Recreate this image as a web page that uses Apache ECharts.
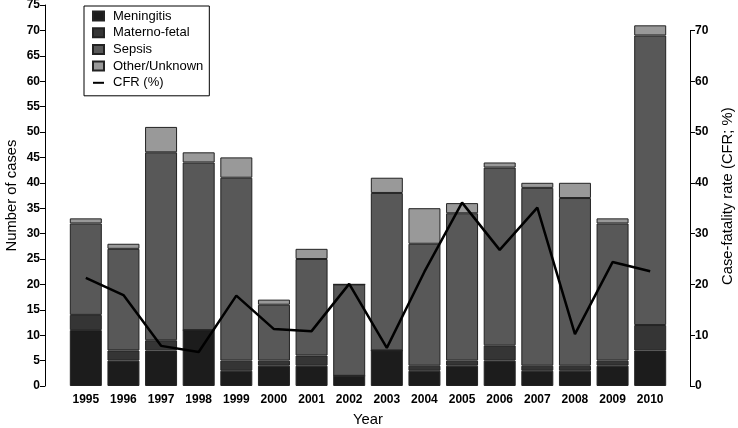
<!DOCTYPE html>
<html>
<head>
<meta charset="utf-8">
<script src="https://cdn.jsdelivr.net/npm/echarts@6/dist/echarts.min.js"></script>
<style>html,body{margin:0;padding:0;background:#fff}#c{width:738px;height:428px}</style>
</head>
<body>
<div id="c"></div>
<script>
var years = ['1995','1996','1997','1998','1999','2000','2001','2002','2003','2004','2005','2006','2007','2008','2009','2010'];
var meningitis   = [11, 5, 7, 11, 3, 4, 4, 2, 7, 3, 4, 5, 3, 3, 4, 7];
var maternoFetal = [ 3, 2, 2,  0, 2, 1, 2, 0, 0, 1, 1, 3, 1, 1, 1, 5];
var sepsis       = [18,20,37, 33,36,11,19,18,31,24,29,35,35,33,27,57];
var otherUnknown = [ 1, 1, 5,  2, 4, 1, 2, 0, 3, 7, 2, 1, 1, 3, 1, 2];
var cfr          = [21.3,17.9,7.9,6.7,17.8,11.2,10.8,20.1,7.5,22.5,36.1,26.8,35.1,10.2,24.4,22.6];
var leftTicks = {min: 0, max: 75, interval: 5};
var rightTicks = {min: 0, max: 70, interval: 10};

var FONT = '"Liberation Sans", Arial, sans-serif';
var chart = echarts.init(document.getElementById('c'));
var barStyle = function (c) { return {color: c, borderColor: '#222', borderWidth: 1}; };
chart.setOption({
  animation: false,
  backgroundColor: '#fff',
  textStyle: {fontFamily: FONT},
  grid: [
    {left: 67, right: 69, top: 5, bottom: 42, outerBoundsMode: 'none', containLabel: false},
    {left: 67, right: 69, top: 30.4, bottom: 42, outerBoundsMode: 'none', containLabel: false}
  ],
  legend: {
    orient: 'vertical', left: 84, top: 6,
    padding: [3, 6, 6, 8],
    borderColor: '#000', borderWidth: 1, borderRadius: 0,
    backgroundColor: '#fff',
    itemWidth: 11, itemHeight: 9, itemGap: 2.7,
    textStyle: {fontFamily: FONT, fontSize: 13, color: '#000', lineHeight: 14, padding: [0, 0, 0, 4]},
    data: [
      {name: 'Meningitis', icon: 'rect'},
      {name: 'Materno-fetal', icon: 'rect'},
      {name: 'Sepsis', icon: 'rect'},
      {name: 'Other/Unknown', icon: 'rect'},
      {name: 'CFR (%)', icon: 'path://M0,0 L11,0 L11,2 L0,2 Z'}
    ]
  },
  xAxis: [
    {type: 'category', gridIndex: 0, data: years, boundaryGap: true,
     axisLine: {show: false}, axisTick: {show: false},
     axisLabel: {fontFamily: FONT, fontSize: 12, fontWeight: 'bold', color: '#000', margin: 8},
     name: 'Year', nameLocation: 'middle', nameGap: 26, nameMoveOverlap: false,
     nameTextStyle: {fontFamily: FONT, fontSize: 14.8, color: '#000'}},
    {type: 'category', gridIndex: 1, data: years, boundaryGap: true, show: false}
  ],
  yAxis: [
    {type: 'value', gridIndex: 0, min: leftTicks.min, max: leftTicks.max, interval: leftTicks.interval,
     offset: 22, position: 'left',
     axisLine: {show: true, lineStyle: {color: '#000', width: 1}},
     axisTick: {show: true, length: 5, lineStyle: {color: '#000'}},
     splitLine: {show: false},
     axisLabel: {fontFamily: FONT, fontSize: 12, fontWeight: 'bold', color: '#000', margin: 5},
     name: 'Number of cases', nameLocation: 'middle', nameGap: 25.5, nameRotate: 90, nameMoveOverlap: false,
     nameTextStyle: {fontFamily: FONT, fontSize: 14.8, color: '#000'}},
    {type: 'value', gridIndex: 1, min: rightTicks.min, max: rightTicks.max, interval: rightTicks.interval,
     offset: 21, position: 'right',
     axisLine: {show: true, lineStyle: {color: '#000', width: 1}},
     axisTick: {show: true, length: 5, lineStyle: {color: '#000'}},
     splitLine: {show: false},
     axisLabel: {fontFamily: FONT, fontSize: 12, fontWeight: 'bold', color: '#000', margin: 5},
     name: 'Case-fatality rate (CFR; %)', nameLocation: 'middle', nameGap: 30.5, nameRotate: 90, nameMoveOverlap: false,
     nameTextStyle: {fontFamily: FONT, fontSize: 14.8, color: '#000', padding: [0, 0, 0, 24]}}
  ],
  series: [
    {name: 'Meningitis', type: 'bar', stack: 'a', xAxisIndex: 0, yAxisIndex: 0, barWidth: 32, data: meningitis, itemStyle: barStyle('#1c1c1c')},
    {name: 'Materno-fetal', type: 'bar', stack: 'a', xAxisIndex: 0, yAxisIndex: 0, barWidth: 32, data: maternoFetal, itemStyle: barStyle('#353535')},
    {name: 'Sepsis', type: 'bar', stack: 'a', xAxisIndex: 0, yAxisIndex: 0, barWidth: 32, data: sepsis, itemStyle: barStyle('#585858')},
    {name: 'Other/Unknown', type: 'bar', stack: 'a', xAxisIndex: 0, yAxisIndex: 0, barWidth: 32, data: otherUnknown, itemStyle: barStyle('#999999')},
    {name: 'CFR (%)', type: 'line', xAxisIndex: 1, yAxisIndex: 1, data: cfr,
     symbol: 'none', lineStyle: {color: '#000', width: 2.5}, itemStyle: {color: '#000'}, z: 5}
  ]
});
</script>
</body>
</html>
